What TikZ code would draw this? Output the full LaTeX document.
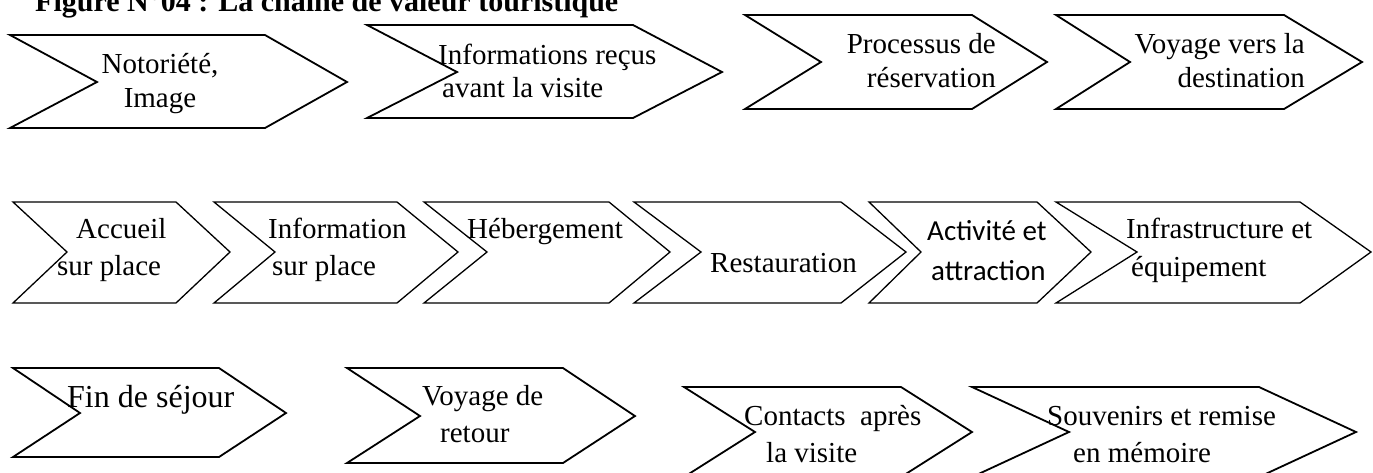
\documentclass[tikz,border=0pt]{standalone}
\usepackage{fontspec}
\setmainfont{Liberation Serif}
\newfontfamily\calfont{Carlito}

\begin{document}
\begin{tikzpicture}[x=1pt,y=-1pt,
  chev/.style={draw,line width=1.8pt},
  chevthin/.style={chev,line width=1.3pt},
  lbl/.style={inner sep=0pt,anchor=base west,font=\fontsize{29}{34}\selectfont}]
\useasboundingbox(0,0)rectangle(1373,472);
\clip(0,0)rectangle(1373,472);
\node[inner sep=0pt,anchor=base west,font=\fontsize{30}{36}\selectfont\bfseries](titre)at(35,11){Figure N°04 : La chaine de valeur touristique};
% ligne 1
\foreach \a/\b/\c/\d/\t/\m/\u in {10/97/265/347/35/82/128,367/457/633/722/25/72/118,745/821/972/1047/15/62/109,1056/1130/1284/1362/15/62/109}
  \draw[chev](\a,\t)--(\c,\t)--(\d,\m)--(\c,\u)--(\a,\u)--(\b,\m)--cycle;
\node[lbl,anchor=base](noto)at(160,73){Notoriété,};\node[lbl,anchor=base](image)at(160,107){Image};
\node[lbl](infos)at(438,64){Informations reçus};\node[lbl](avant)at(442,97){avant la visite};
\node[lbl,anchor=base east](proc)at(996,53){Processus de};\node[lbl,anchor=base east](resa)at(996,87){réservation};
\node[lbl,anchor=base east](vvers)at(1305,53){Voyage vers la};\node[lbl,anchor=base east](dest)at(1305,87){destination};
% ligne 2
\foreach \a/\b/\c/\d in {13/67/176/230,214/275/397/458,424/487/609/670,634/701/841/906,869/921/1037/1091,1056/1137/1300/1371}
  \draw[chevthin](\a,202)--(\c,202)--(\d,252)--(\c,303)--(\a,303)--(\b,252)--cycle;
\node[lbl](accueil)at(76,238){Accueil};\node[lbl](surpl1)at(57,275){sur place};
\node[lbl](info)at(268,238){Information};\node[lbl](surpl2)at(272,275){sur place};
\node[lbl](heberg)at(467,238){Hébergement};
\node[lbl](resto)at(710,272){Restauration};
\node[lbl,font=\fontsize{29}{34}\selectfont\calfont](activ)at(927,240){Activité et};\node[lbl,font=\fontsize{29}{34}\selectfont\calfont](attr)at(931,280){attraction};
\node[lbl](infra)at(1126,238){Infrastructure et};\node[lbl](equip)at(1131,276){équipement};
% ligne 3
\foreach \a/\b/\c/\d/\t/\m/\u in {13/80/219/286/368/413/457,347/420/563/635/368/416/463,684/755/901/972/387/432/477,972/1069/1259/1356/387/432/477}
  \draw[chev](\a,\t)--(\c,\t)--(\d,\m)--(\c,\u)--(\a,\u)--(\b,\m)--cycle;
\node[lbl,font=\fontsize{32}{36}\selectfont](fin)at(67,407){Fin de séjour};
\node[lbl](vde)at(422,405){Voyage de};\node[lbl](retour)at(440,442){retour};
\node[lbl](contacts)at(744,425){Contacts\ \ après};\node[lbl](lavisite)at(766,462){la visite};
\node[lbl](souv)at(1047,425){Souvenirs et remise};\node[lbl](memoire)at(1073,462){en mémoire};
\end{tikzpicture}
\end{document}
